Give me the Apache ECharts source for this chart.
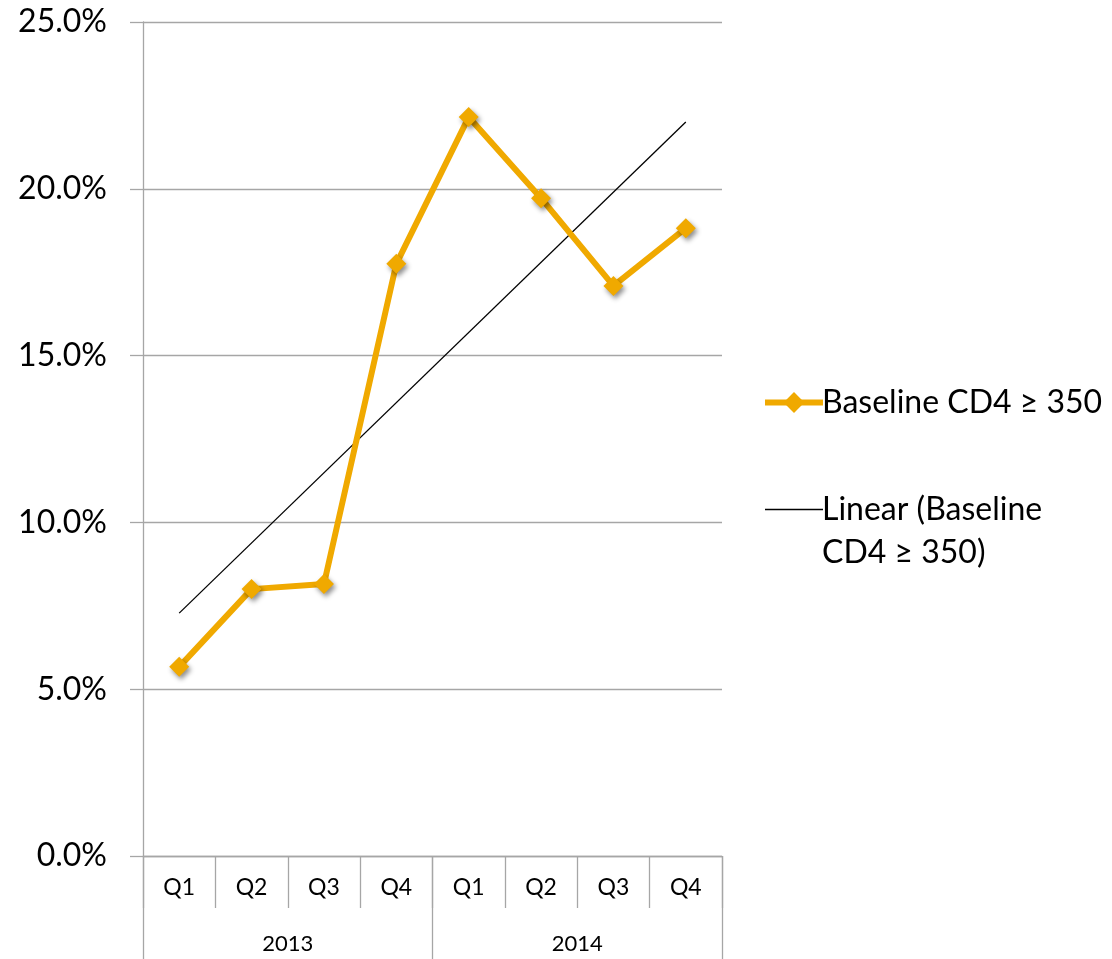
<!DOCTYPE html>
<html>
<head>
<meta charset="utf-8">
<script src="https://cdn.jsdelivr.net/npm/echarts@6/dist/echarts.min.js"></script>
<style>
  html, body { margin: 0; padding: 0; background: #fff; }
  #chart { width: 1112px; height: 959px; }
</style>
</head>
<body>
<div id="chart"></div>
<script>
// Quarterly share of patients with baseline CD4 >= 350, 2013-2014
const quarters = ['Q1', 'Q2', 'Q3', 'Q4', 'Q1', 'Q2', 'Q3', 'Q4'];
const years = ['2013', '2014'];
const baselineShare = [5.67, 8.0, 8.15, 17.75, 22.15, 19.72, 17.09, 18.82];
// Linear trend endpoints (first and last quarter); the span between is joined
const trendShare = [7.28, '-', '-', '-', '-', '-', '-', 22.0];
const yTicks = [0, 5, 10, 15, 20, 25];

const seriesName = 'Baseline CD4 ≥ 350';
const trendName = 'Linear (Baseline CD4 ≥ 350)';

const FONT = 'Lato';
const GRID = '#a6a6a6';
const ORANGE = '#f0a900';

const chart = echarts.init(document.getElementById('chart'), null, { renderer: 'canvas' });

chart.setOption({
  animation: false,
  backgroundColor: '#ffffff',
  grid: { left: 143, right: 390, top: 22, bottom: 103, containLabel: false },
  legend: {
    orient: 'vertical',
    left: 757,
    top: 376,
    itemWidth: 58,
    itemHeight: 26,
    itemGap: 21,
    textStyle: { fontFamily: FONT, fontSize: 32, color: '#000', lineHeight: 43, padding: [0, 0, 0, -6] },
    // the trend entry wraps; a leading blank line keeps its icon level with the first line
    formatter: name => name === trendName ? '\nLinear (Baseline\nCD4 ≥ 350)' : name,
    data: [
      { name: seriesName, lineStyle: { width: 6, color: ORANGE } },
      { name: trendName, lineStyle: { width: 1.3, color: '#000' }, itemStyle: { opacity: 0 } }
    ]
  },
  xAxis: [
    {
      type: 'category',
      data: quarters,
      position: 'bottom',
      boundaryGap: true,
      axisLine: { show: true, lineStyle: { color: GRID, width: 1.3 } },
      axisTick: { show: true, length: 52, lineStyle: { color: GRID, width: 1.3 } },
      axisLabel: { margin: 20, fontFamily: FONT, fontSize: 23, color: '#000' }
    },
    {
      type: 'category',
      data: years,
      position: 'bottom',
      boundaryGap: true,
      axisLine: { show: false },
      axisTick: { show: true, length: 103, lineStyle: { color: GRID, width: 1.3 } },
      axisLabel: { margin: 77, fontFamily: FONT, fontSize: 22, color: '#000' }
    }
  ],
  yAxis: {
    type: 'value',
    min: yTicks[0],
    max: yTicks[yTicks.length - 1],
    interval: 5,
    axisLine: { show: true, lineStyle: { color: GRID, width: 1.3 } },
    axisTick: { show: true, length: 13, lineStyle: { color: GRID, width: 1.3 } },
    splitLine: { show: true, lineStyle: { color: GRID, width: 1.3 } },
    axisLabel: {
      margin: 36,
      fontFamily: FONT,
      fontSize: 32,
      color: '#000',
      formatter: v => v.toFixed(1) + '%'
    }
  },
  series: [
    {
      name: seriesName,
      type: 'line',
      xAxisIndex: 0,
      data: baselineShare,
      symbol: 'diamond',
      symbolSize: 20,
      z: 3,
      lineStyle: { color: ORANGE, width: 6 },
      itemStyle: {
        color: ORANGE,
        shadowColor: 'rgba(0,0,0,0.45)',
        shadowBlur: 5,
        shadowOffsetX: 2,
        shadowOffsetY: 3
      }
    },
    {
      name: trendName,
      type: 'line',
      xAxisIndex: 0,
      data: trendShare,
      connectNulls: true,
      symbol: 'none',
      showSymbol: false,
      z: 2,
      lineStyle: { color: '#000', width: 1.3 },
      itemStyle: { color: '#000' }
    }
  ]
});
</script>
</body>
</html>
